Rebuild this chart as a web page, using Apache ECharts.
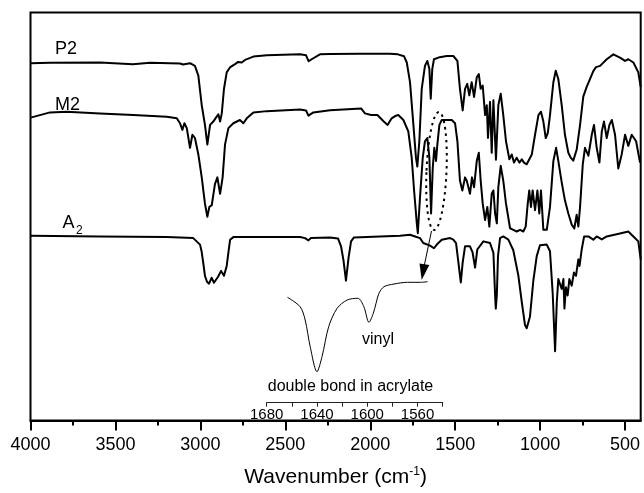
<!DOCTYPE html>
<html><head><meta charset="utf-8">
<script src="https://cdn.jsdelivr.net/npm/echarts@6/dist/echarts.min.js"></script>
<style>html,body{margin:0;padding:0;background:#fff}#c{width:644px;height:493px}</style>
</head><body><div id="c"></div>
<script>
// Tick labels (wavenumber, cm-1)
const majorTicks = [4000, 3500, 3000, 2500, 2000, 1500, 1000, 500];
const minorTicks = [3750, 3250, 2750, 2250, 1750, 1250, 750];
const insetTickLabels = [1680, 1640, 1600, 1560];
const curveLabels = ['P2', 'M2', 'A', '2'];

// Spectra: [wavenumber, offset transmittance (a.u.)]
const p2 = [[3999,363],[3885,363.5],[3591,363.7],[3397,362],[3297,363.5],[3120,362.7],[3102,361.7],[3061,363],[3032,360.3],[3012,350.3],[2992,320.3],[2973,300.3],[2959,280.3],[2943,300.3],[2924,303.7],[2904,308.7],[2894,311],[2884,303.7],[2874,312],[2861,337],[2845,353.7],[2826,358.7],[2796,362],[2777,364.3],[2757,363.7],[2737,366.3],[2688,369.7],[2609,371],[2413,372],[2378,371],[2363,365],[2345,367],[2296,372],[2237,372.3],[2060,372.7],[1886,372.7],[1837,372],[1801,370],[1785,363.7],[1766,343.7],[1746,300.3],[1731,267],[1723,258],[1711,283.7],[1697,337],[1678,360.3],[1664,365.3],[1652,357],[1644,327],[1635,357],[1625,367],[1599,368.7],[1550,370.3],[1511,370.3],[1487,365.3],[1472,337],[1456,315],[1442,337],[1429,342],[1417,330.3],[1403,343.7],[1389,328.7],[1373,348.7],[1361,352],[1350,337],[1338,340.3],[1324,310.3],[1314,320.3],[1307,287],[1295,323.7],[1285,272],[1275,325.3],[1260,265],[1246,320.3],[1232,332],[1217,310.3],[1201,283.7],[1181,265.3],[1167,270.3],[1154,262],[1138,267],[1122,262],[1108,265.3],[1095,262],[1079,260.3],[1049,270.3],[1030,290.3],[1010,310.3],[995,313.7],[981,303.7],[967,287],[955,292],[942,310.3],[922,343.7],[908,355.3],[893,347],[873,320.3],[854,290.3],[834,272],[820,267],[805,264],[785,275],[765,300.3],[746,329],[726,339],[706,347],[687,355],[671,359],[647,360.3],[608,367],[569,372],[530,368.7],[500,365.3],[481,367],[451,363.7],[422,353.7],[408,338.7]];
const m2 = [[3999,307.7],[3885,313],[3787,313.7],[3591,312],[3395,310.3],[3198,308.7],[3139,307],[3120,302],[3106,295.3],[3094,302],[3080,297],[3061,277],[3047,290.3],[3032,287],[3012,270.3],[2992,247],[2973,220.3],[2959,207],[2947,217],[2933,218.7],[2914,240.3],[2900,247],[2884,230.3],[2869,247],[2855,280.3],[2835,297],[2806,302],[2767,305.3],[2747,302],[2727,307],[2688,313],[2609,314.3],[2413,316],[2378,315],[2364,309.7],[2335,313],[2237,315.3],[2054,317],[2031,312],[1995,310.3],[1958,310.3],[1922,304],[1898,300.3],[1874,307],[1849,309.7],[1835,310.3],[1805,305.3],[1776,293.7],[1756,267],[1742,233.7],[1726,200.3],[1720,190.3],[1707,227],[1691,267],[1678,283.7],[1664,287],[1652,267],[1642,210.3],[1632,257],[1623,277],[1613,263.7],[1605,280.3],[1593,300.3],[1579,305.3],[1520,305.3],[1501,302],[1487,283.7],[1472,243.7],[1458,233.7],[1442,247],[1432,243.7],[1423,245.3],[1413,230.3],[1401,247],[1389,237],[1373,263.7],[1361,272],[1350,243.7],[1338,220.3],[1324,203.7],[1311,217],[1299,197],[1285,230.3],[1275,233.7],[1265,210.3],[1255,200.3],[1246,237],[1232,258.7],[1217,243.7],[1201,220.3],[1177,195.3],[1158,193.7],[1138,192],[1118,193.7],[1099,192],[1085,197],[1073,220.3],[1064,233.7],[1054,217],[1044,233.7],[1030,213.7],[1016,233.7],[1005,210.3],[995,233.7],[981,193.7],[961,193.7],[942,217],[922,263.7],[906,277],[893,263.7],[873,242],[854,223.7],[834,210.3],[814,199],[799,195],[785,209],[775,197],[765,217],[749,260.3],[736,277],[716,269],[696,290.3],[683,300.3],[667,277],[651,262],[637,293.7],[624,303.7],[608,287],[592,300.3],[578,305.3],[559,290.3],[540,256],[520,270.3],[500,290.3],[481,279],[461,290.3],[435,283.7],[412,262]];
const a2 = [[3999,187.7],[3591,187],[3198,186.3],[3042,185.3],[3002,178.7],[2993,172],[2983,160],[2973,147],[2961,141],[2949,139],[2934,145],[2920,140],[2896,146],[2878,152],[2861,147],[2845,157],[2834,172],[2825,183.7],[2806,186.3],[2413,186.5],[2384,185.3],[2364,183],[2349,185.5],[2237,186],[2190,185],[2172,177],[2157,162],[2143,142],[2128,165],[2113,182],[2096,186],[1943,187],[1825,187.7],[1766,188.7],[1736,187],[1707,185.3],[1688,180.3],[1648,177.7],[1625,175],[1607,179],[1579,183.7],[1530,185.3],[1511,183.7],[1495,180.3],[1481,160.3],[1467,140.3],[1456,160.3],[1442,177],[1413,177],[1398,171],[1383,155.3],[1370,173.7],[1334,182],[1295,180.3],[1275,170.3],[1265,127],[1261,113.7],[1255,127],[1248,167],[1236,185.3],[1217,187],[1187,183.7],[1158,173],[1128,147],[1108,120.3],[1089,97],[1079,93.7],[1060,105.3],[1040,142],[1020,167],[1001,178],[961,178.7],[942,172],[926,129],[912,70.3],[902,120],[893,143.7],[883,145.3],[873,133.7],[863,143.7],[857,113.7],[848,135.3],[838,127],[828,143.7],[814,137],[801,150.3],[789,147],[775,163.7],[768,157],[755,174],[741,187],[716,187],[687,183.7],[667,187],[637,184],[608,187],[530,190],[481,192],[451,187],[422,182],[408,163.7]];
// Inset: expanded 1680-1540 cm-1 region
const inset = [[1663.5,105.4],[1653.4,96],[1649.4,82.7],[1645.4,56],[1640,31],[1636,46],[1630.7,76],[1624,94.4],[1616,102.7],[1607.5,104.4],[1602.7,96],[1598.7,80.4],[1595.2,89.4],[1590.7,109.4],[1586.7,116],[1578.7,118.7],[1568,120.4],[1557.4,120.4],[1552,121]];

const FF = '"Liberation Sans", Arial, Helvetica, sans-serif';
const chart = echarts.init(document.getElementById('c'), null, {renderer: 'canvas'});
const lineS = (data, xi, yi, w, sm) => ({
  type: 'line', data: data, xAxisIndex: xi, yAxisIndex: yi, showSymbol: false, silent: true,
  smooth: sm, lineStyle: {color: '#000', width: w, join: 'round'}
});
chart.setOption({
  animation: false,
  backgroundColor: '#fff',
  grid: [
    {left: 30.5, top: 12.5, width: 610.2, height: 414.5, show: true, borderColor: '#000', borderWidth: 2, backgroundColor: 'transparent'},
    {left: 266.7, top: 270, width: 176, height: 132.7}
  ],
  xAxis: [
    {gridIndex: 0, type: 'value', min: 408, max: 4000, inverse: true, position: 'bottom',
     axisLine: {show: true, onZero: false, lineStyle: {color: '#000', width: 2}},
     axisTick: {show: true, customValues: majorTicks, length: 10, lineStyle: {color: '#000', width: 2}},
     axisLabel: {customValues: majorTicks, fontSize: 18, fontFamily: FF, color: '#000', margin: 16,
       formatter: v => String(v)},
     splitLine: {show: false},
     name: '{t|Wavenumber (cm}{s|-1}{t|)}', nameLocation: 'middle', nameGap: 45,
     nameTextStyle: {rich: {
       t: {fontSize: 21, fontFamily: FF, color: '#000', lineHeight: 24},
       s: {fontSize: 12, fontFamily: FF, color: '#000', verticalAlign: 'top'}
     }}},
    {gridIndex: 0, type: 'value', min: 408, max: 4000, inverse: true, position: 'bottom', offset: 0,
     axisLine: {show: false},
     axisTick: {show: true, customValues: minorTicks, length: 5, lineStyle: {color: '#000', width: 2}},
     axisLabel: {show: false}, splitLine: {show: false}},
    {gridIndex: 1, type: 'value', min: 1540, max: 1680, interval: 20, inverse: true, position: 'bottom',
     axisLine: {show: true, onZero: false, lineStyle: {color: '#222', width: 1}},
     axisTick: {show: true, length: 4, lineStyle: {color: '#222', width: 1}},
     axisLabel: {fontSize: 15, fontFamily: FF, color: '#000', margin: 5, showMinLabel: true, showMaxLabel: true,
       formatter: v => insetTickLabels.indexOf(v) >= 0 ? String(v) : ''},
     splitLine: {show: false}}
  ],
  yAxis: [
    {gridIndex: 0, type: 'value', min: 0, max: 414.5, show: false},
    {gridIndex: 1, type: 'value', min: 0, max: 132.7, show: false}
  ],
  series: [
    lineS(p2, 0, 0, 2, false),
    lineS(m2, 0, 0, 2, false),
    lineS(a2, 0, 0, 2, false),
    lineS(inset, 2, 1, 1, 0.3)
  ],
  graphic: [
    {type: 'text', x: 55, y: 49, style: {text: curveLabels[0], fontSize: 18, fontFamily: FF, fill: '#000', verticalAlign: 'middle'}},
    {type: 'text', x: 55, y: 105, style: {text: curveLabels[1], fontSize: 18, fontFamily: FF, fill: '#000', verticalAlign: 'middle'}},
    {type: 'text', x: 62.5, y: 223, style: {text: curveLabels[2], fontSize: 18, fontFamily: FF, fill: '#000', verticalAlign: 'middle'}},
    {type: 'text', x: 76, y: 231, style: {text: curveLabels[3], fontSize: 12, fontFamily: FF, fill: '#000', verticalAlign: 'middle'}},
    {type: 'ellipse', x: 436.5, y: 171, rotation: -0.042, shape: {cx: 0, cy: 0, rx: 10, ry: 59},
     style: {fill: 'none', stroke: '#000', lineWidth: 2, lineDash: [2.5, 4]}},
    {type: 'line', shape: {x1: 431.5, y1: 231, x2: 424.4, y2: 265}, style: {stroke: '#000', lineWidth: 1}},
    {type: 'polygon', shape: {points: [[421.7, 280], [429.3, 265.1], [419.5, 263.4]]}, style: {fill: '#000'}},
    {type: 'text', x: 378, y: 340, style: {text: 'vinyl', fontSize: 16, fontFamily: FF, fill: '#000', align: 'center', verticalAlign: 'middle'}},
    {type: 'text', x: 350.5, y: 387, style: {text: 'double bond in acrylate', fontSize: 16, fontFamily: FF, fill: '#000', align: 'center', verticalAlign: 'middle'}}
  ]
});
</script></body></html>
